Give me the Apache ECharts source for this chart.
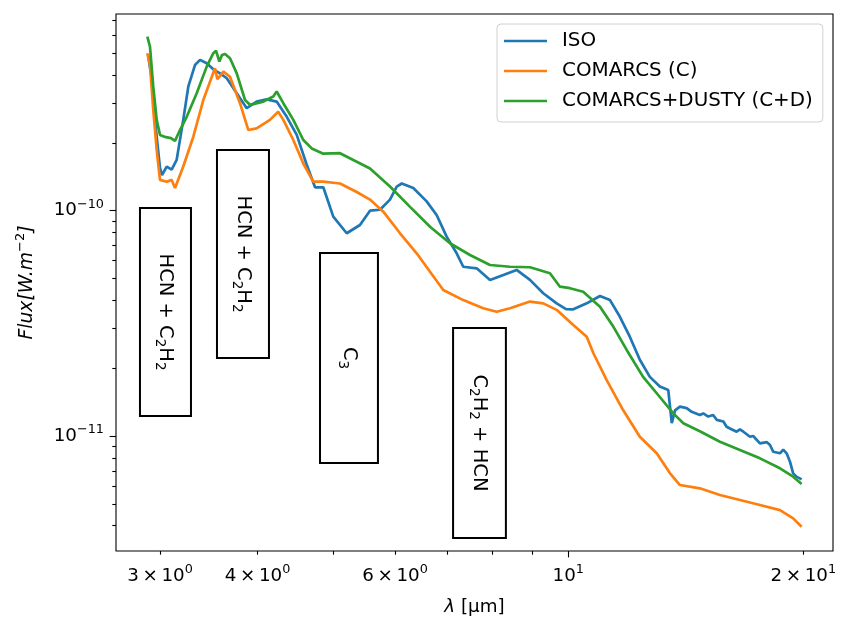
<!DOCTYPE html>
<html><head><meta charset="utf-8">
<script src="https://cdn.jsdelivr.net/npm/echarts@6/dist/echarts.min.js"></script>
<style>html,body{margin:0;padding:0;background:#fff}#c{width:844px;height:634px}</style>
</head><body><div id="c"></div>
<script>
// ---- data (wavelength in micron, flux in W.m^-2) ----
const isoLambda = [2.896,2.930,2.965,3.000,3.018,3.060,3.105,3.151,3.213,3.261,3.326,3.376,3.443,3.511,3.581,3.653,3.762,3.874,3.989,4.109,4.232,4.360,4.490,4.624,4.739,4.856,5.001,5.203,5.410,5.573,5.739,5.911,6.030,6.120,6.332,6.586,6.783,6.986,7.196,7.337,7.633,7.939,8.258,8.587,8.933,9.289,9.663,9.934,10.15,10.56,10.98,11.31,11.64,11.99,12.35,12.72,13.10,13.43,13.57,13.70,13.90,14.18,14.39,14.74,14.89,15.11,15.33,15.49,15.80,15.95,16.11,16.43,16.59,16.76,17.09,17.25,17.60,17.95,18.13,18.30,18.67,18.85,19.04,19.23,19.41,19.60,19.90];
const isoFlux = [4.91e-10,3.80e-10,2.28e-10,1.55e-10,1.44e-10,1.57e-10,1.52e-10,1.68e-10,2.53e-10,3.55e-10,4.43e-10,4.67e-10,4.51e-10,4.24e-10,4.07e-10,3.87e-10,3.32e-10,2.85e-10,3.05e-10,3.12e-10,3.05e-10,2.61e-10,2.17e-10,1.60e-10,1.27e-10,1.27e-10,9.41e-11,7.94e-11,8.64e-11,1.00e-10,1.01e-10,1.12e-10,1.28e-10,1.32e-10,1.26e-10,1.10e-10,9.57e-11,7.67e-11,6.47e-11,5.64e-11,5.55e-11,4.93e-11,5.18e-11,5.46e-11,4.93e-11,4.30e-11,3.88e-11,3.66e-11,3.65e-11,3.88e-11,4.18e-11,4.01e-11,3.39e-11,2.76e-11,2.18e-11,1.83e-11,1.66e-11,1.60e-11,1.14e-11,1.30e-11,1.35e-11,1.33e-11,1.28e-11,1.24e-11,1.26e-11,1.22e-11,1.24e-11,1.18e-11,1.16e-11,1.10e-11,1.08e-11,1.045e-11,1.07e-11,1.045e-11,9.93e-12,1.00e-11,9.28e-12,9.40e-12,9.12e-12,8.52e-12,8.38e-12,8.70e-12,8.38e-12,7.69e-12,6.83e-12,6.60e-12,6.42e-12];

const comLambda = [2.890,2.913,2.941,2.971,3.000,3.060,3.105,3.136,3.213,3.310,3.409,3.477,3.528,3.553,3.616,3.688,3.798,3.893,3.989,4.149,4.251,4.316,4.445,4.578,4.714,4.856,5.101,5.359,5.573,5.796,6.089,6.395,6.652,6.917,7.337,7.783,8.097,8.421,8.933,9.289,9.663,10.15,10.56,10.77,11.20,11.76,12.35,12.98,13.50,13.90,14.74,15.64,16.59,17.60,18.67,19.41,19.90];
const comFlux = [4.995e-10,4.43e-10,2.80e-10,1.86e-10,1.37e-10,1.345e-10,1.37e-10,1.26e-10,1.57e-10,2.13e-10,3.10e-10,3.74e-10,4.29e-10,3.83e-10,4.14e-10,3.93e-10,3.00e-10,2.28e-10,2.32e-10,2.53e-10,2.75e-10,2.53e-10,2.06e-10,1.62e-10,1.345e-10,1.345e-10,1.32e-10,1.21e-10,1.12e-10,9.90e-11,7.94e-11,6.47e-11,5.36e-11,4.45e-11,4.01e-11,3.69e-11,3.56e-11,3.69e-11,3.95e-11,3.88e-11,3.63e-11,3.11e-11,2.76e-11,2.33e-11,1.77e-11,1.30e-11,9.93e-12,8.38e-12,6.83e-12,6.06e-12,5.86e-12,5.47e-12,5.20e-12,4.94e-12,4.69e-12,4.31e-12,3.96e-12];

const dustyLambda = [2.890,2.913,2.941,2.971,3.000,3.053,3.099,3.136,3.182,3.246,3.343,3.443,3.511,3.539,3.574,3.602,3.634,3.688,3.762,3.855,3.912,4.069,4.190,4.232,4.316,4.445,4.578,4.693,4.856,5.101,5.359,5.573,5.911,6.271,6.652,7.055,7.484,7.939,8.421,8.933,9.474,9.758,10.05,10.45,10.98,11.42,11.88,12.47,13.10,13.63,14.04,14.74,15.64,16.59,17.60,18.67,19.41,19.90];
const dustyFlux = [5.92e-10,5.34e-10,3.55e-10,2.53e-10,2.17e-10,2.12e-10,2.10e-10,2.04e-10,2.28e-10,2.61e-10,3.32e-10,4.36e-10,5.00e-10,5.13e-10,4.59e-10,4.91e-10,4.96e-10,4.75e-10,4.07e-10,3.10e-10,2.95e-10,3.05e-10,3.21e-10,3.38e-10,3.00e-10,2.53e-10,2.06e-10,1.89e-10,1.79e-10,1.80e-10,1.65e-10,1.54e-10,1.28e-10,1.04e-10,8.49e-11,7.17e-11,6.36e-11,5.74e-11,5.64e-11,5.61e-11,5.28e-11,4.60e-11,4.53e-11,4.37e-11,3.75e-11,3.06e-11,2.41e-11,1.83e-11,1.49e-11,1.26e-11,1.14e-11,1.05e-11,9.43e-12,8.67e-12,7.96e-12,7.19e-12,6.60e-12,6.12e-12];

const seriesNames = ['ISO', 'COMARCS (C)', 'COMARCS+DUSTY (C+D)'];

// annotation boxes (data coordinates)
const boxLabels = ['HCN + C₂H₂', 'HCN + C₂H₂', 'C₃', 'C₂H₂ + HCN'];
const boxLambdaMin = [2.828, 3.549, 4.809, 7.12];
const boxLambdaMax = [3.287, 4.137, 5.705, 8.32];
const boxFluxTop = [1.028e-10, 1.86e-10, 6.49e-11, 3.015e-11];
const boxFluxBottom = [1.227e-11, 2.219e-11, 7.59e-12, 3.53e-12];

// axes ranges and ticks
const xMin = 2.635, xMax = 21.83;
const yMin = 3.088e-12, yMax = 7.464e-10;
const xMajorTicks = [10];
const xMinorTicks = [3, 4, 5, 6, 7, 8, 9, 20];
const xMinorLabels = [3, 4, 6, 20];
const yMajorTicks = [1e-11, 1e-10];
const yMinorTicks = [4e-12,5e-12,6e-12,7e-12,8e-12,9e-12,2e-11,3e-11,4e-11,5e-11,6e-11,7e-11,8e-11,9e-11,2e-10,3e-10,4e-10,5e-10,6e-10,7e-10];

// ---- chart ----
const FONT = 'DejaVu Sans';
const FS = 18.3;
const L = Math.log10;
function xFmt(v) {
  const val = Math.pow(10, v);
  const e = Math.floor(v + 1e-9);
  const m = Math.round(val / Math.pow(10, e));
  return '{b|' + (m === 1 ? '' : m + '\u2009×\u2009') + '10}{s|' + e + '}';
}
function yFmt(v) {
  const e = Math.round(v);
  return '{b|10}{s|' + String(e).replace('-', '\u2212') + '}';
}
const zip = (a, b) => a.map((x, i) => [x, b[i]]);

const tickStyle = {color: '#000', width: 1.1};
const richTick = {
  b: {fontFamily: FONT, fontSize: FS, lineHeight: 26, color: '#000'},
  s: {fontFamily: FONT, fontSize: 12.8, lineHeight: 14, verticalAlign: 'top', color: '#000'}
};
const labelBase = {color: '#000', fontFamily: FONT, fontSize: FS, rich: richTick};

const xAxes = [
  {type: 'log', min: xMin, max: xMax, axisLine: {show: false}, axisTick: {show: false}, axisLabel: {show: false}, splitLine: {show: false},
   name: '{i|λ} [μm]', nameLocation: 'middle', nameGap: 47,
   nameTextStyle: {color: '#000', fontFamily: FONT, fontSize: FS, rich: {i: {fontStyle: 'italic', fontFamily: FONT, fontSize: FS, color: '#000'}}}},
  {type: 'value', min: L(xMin), max: L(xMax), position: 'bottom', axisLine: {show: false}, splitLine: {show: false},
   axisTick: {show: true, customValues: xMajorTicks.map(L), length: 6.4, lineStyle: tickStyle},
   axisLabel: Object.assign({customValues: xMajorTicks.map(L), formatter: xFmt, margin: 12}, labelBase)},
  {type: 'value', min: L(xMin), max: L(xMax), position: 'bottom', axisLine: {show: false}, splitLine: {show: false},
   axisTick: {show: true, customValues: xMinorTicks.map(L), length: 3.7, lineStyle: tickStyle},
   axisLabel: Object.assign({customValues: xMinorLabels.map(L), formatter: xFmt, margin: 12}, labelBase)}
];
const yAxes = [
  {type: 'log', min: yMin, max: yMax, axisLine: {show: false}, axisTick: {show: false}, axisLabel: {show: false}, splitLine: {show: false},
   name: '{i|Flux[W.m}{s|\u22122}{i|]}', nameLocation: 'middle', nameGap: 76,
   nameTextStyle: {color: '#000', fontFamily: FONT, fontSize: FS,
     rich: {i: {fontFamily: FONT, fontSize: 18.8, fontStyle: 'italic', lineHeight: 26, color: '#000'},
            s: {fontFamily: FONT, fontSize: 13, lineHeight: 14, verticalAlign: 'top', color: '#000'}}}},
  {type: 'value', min: L(yMin), max: L(yMax), position: 'left', axisLine: {show: false}, splitLine: {show: false},
   axisTick: {show: true, customValues: yMajorTicks.map(L), length: 6.4, lineStyle: tickStyle},
   axisLabel: Object.assign({customValues: yMajorTicks.map(L), formatter: yFmt, margin: 12}, labelBase)},
  {type: 'value', min: L(yMin), max: L(yMax), position: 'left', axisLine: {show: false}, splitLine: {show: false},
   axisTick: {show: true, customValues: yMinorTicks.map(L), length: 3.7, lineStyle: tickStyle},
   axisLabel: {show: false}}
];

const colors = ['#1f77b4', '#ff7f0e', '#2ca02c'];
const lineData = [zip(isoLambda, isoFlux), zip(comLambda, comFlux), zip(dustyLambda, dustyFlux)];

const series = seriesNames.map((n, i) => ({
  name: n, type: 'line', xAxisIndex: 0, yAxisIndex: 0, data: lineData[i],
  showSymbol: false, symbol: 'none', smooth: false, silent: true,
  lineStyle: {color: colors[i], width: 2.7}, itemStyle: {color: colors[i]}, z: 3 + i
}));
const subMap = {'₂': '2', '₃': '3'};
series.push({
  name: 'boxes', type: 'line', xAxisIndex: 0, yAxisIndex: 0, data: [], silent: true, z: 10,
  markArea: {
    silent: true,
    itemStyle: {color: '#fff', borderColor: '#000', borderWidth: 2},
    label: {
      show: true, position: 'inside', rotate: -90, color: '#000', fontFamily: FONT, fontSize: 19.5,
      formatter: p => '{b|' + p.name.replace(/[₂₃]/g, m => '}{d|' + subMap[m] + '}{b|') + '}',
      rich: {
        b: {fontFamily: FONT, fontSize: 19.5, lineHeight: 26, color: '#000'},
        d: {fontFamily: FONT, fontSize: 13.5, lineHeight: 14, verticalAlign: 'bottom', color: '#000'}
      }
    },
    data: boxLabels.map((t, i) => [
      {name: t, coord: [boxLambdaMin[i], boxFluxTop[i]]},
      {coord: [boxLambdaMax[i], boxFluxBottom[i]]}
    ])
  }
});

const chart = echarts.init(document.getElementById('c'), null, {renderer: 'canvas'});
chart.setOption({
  animation: false,
  backgroundColor: '#fff',
  textStyle: {fontFamily: FONT},
  grid: {left: 116, right: 11, top: 14, bottom: 83, show: true, borderColor: '#000', borderWidth: 1.1, backgroundColor: 'transparent'},
  legend: {
    data: seriesNames, orient: 'vertical', left: 497, top: 24,
    padding: [7, 10, 11, 7], itemWidth: 43, itemHeight: 2.7, itemGap: 10, icon: 'rect',
    backgroundColor: 'rgba(255,255,255,0.8)', borderColor: '#d0d0d0', borderWidth: 1, borderRadius: 4,
    textStyle: {color: '#000', fontFamily: FONT, fontSize: 19.9, lineHeight: 20, padding: [0, 0, 0, 10]},
    selectedMode: false
  },
  xAxis: xAxes,
  yAxis: yAxes,
  series: series
});
</script>
</body></html>
